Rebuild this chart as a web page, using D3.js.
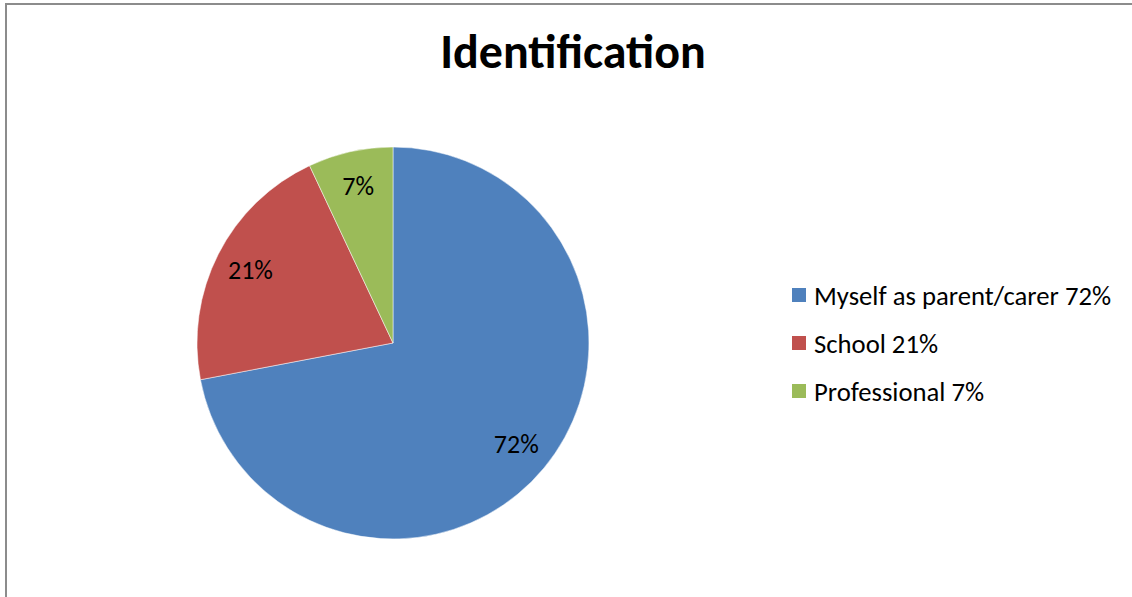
<!DOCTYPE html>
<html>
<head>
<meta charset="utf-8">
<script src="https://cdn.jsdelivr.net/npm/d3@7"></script>
<style>
  body { margin: 0; background: #fff; }
  svg { display: block; font-family: Carlito, Calibri, Lato, "Open Sans", sans-serif; }
</style>
</head>
<body>
<div></div>
<script>
const WIDTH = 1132;
const HEIGHT = 597;
const categories = ['Myself as parent/carer', 'School', 'Professional'];
const values = [72, 21, 7];
const colors = ['#4f81bd', '#c0504d', '#9bbb59'];

const svg = d3.select('div').append('svg')
    .attr('width', WIDTH)
    .attr('height', HEIGHT);

// chart border (only top and left visible)
svg.append('rect')
    .attr('x', 6)
    .attr('y', 4)
    .attr('width', WIDTH + 20)
    .attr('height', HEIGHT + 20)
    .attr('fill', 'none')
    .attr('stroke', '#8c8c8c')
    .attr('stroke-width', 2);

// title
svg.append('text')
    .attr('x', 573)
    .attr('y', 68)
    .attr('text-anchor', 'middle')
    .attr('font-size', 48)
    .attr('font-weight', 'bold')
    .attr('fill', '#000')
    .text('Identification');

// pie
const cx = 393, cy = 343, R = 196;
const pie = d3.pie().sort(null).value(d => d.value);
const arcs = pie(categories.map((c, i) => ({ name: c, value: values[i], color: colors[i] })));
const arc = d3.arc().innerRadius(0).outerRadius(R);
const labelArc = d3.arc().innerRadius(160).outerRadius(160);

const pieGroup = svg.append('g')
    .attr('transform', 'translate(' + cx + ',' + cy + ')');
pieGroup.selectAll('path')
    .data(arcs)
    .join('path')
    .attr('d', arc)
    .attr('fill', d => d.data.color)
    .attr('stroke', '#fff')
    .attr('stroke-width', 0.5);
pieGroup.selectAll('text')
    .data(arcs)
    .join('text')
    .attr('transform', d => 'translate(' + labelArc.centroid(d) + ')')
    .attr('text-anchor', 'middle')
    .attr('dy', '0.32em')
    .attr('font-size', 26)
    .attr('fill', '#000')
    .text(d => d.data.value + '%');

// legend
const legendY = d3.scalePoint().domain(categories).range([295, 391]);
const legend = svg.append('g');
const rows = legend.selectAll('g')
    .data(arcs)
    .join('g')
    .attr('transform', d => 'translate(792,' + legendY(d.data.name) + ')');
rows.append('rect')
    .attr('x', 0)
    .attr('y', -7)
    .attr('width', 14)
    .attr('height', 14)
    .attr('fill', d => d.data.color);
rows.append('text')
    .attr('x', 22)
    .attr('y', 10)
    .attr('font-size', 26.7)
    .attr('fill', '#000')
    .text(d => d.data.name + ' ' + d.data.value + '%');
</script>
</body>
</html>
